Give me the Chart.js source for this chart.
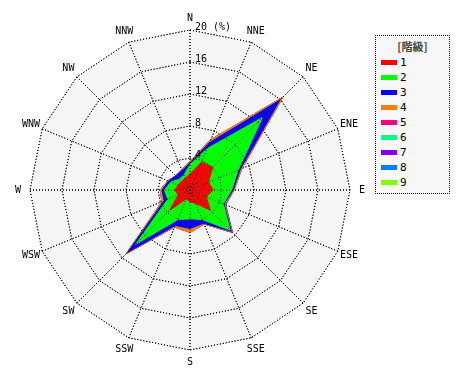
<!DOCTYPE html>
<html>
<head>
<meta charset="utf-8">
<script src="https://cdn.jsdelivr.net/npm/chart.js@4"></script>
<style>
  body { margin: 0; background: #fff; }
  #wrap { position: relative; width: 470px; height: 380px; }
  #rose { position: absolute; left: 0; top: 0; }
  #legend {
    position: absolute; left: 375px; top: 35px; width: 75px; height: 159px;
    border: 1px dotted #000; background: #f7f7f7; box-sizing: border-box;
    font: 11px "DejaVu Sans Mono", monospace; color: #000;
  }
  #legend .ttl { text-align: center; font: bold 11px "Noto Sans CJK JP", sans-serif; color: #444; margin-top: 2px; height: 17px; line-height: 17px; }
  #legend .row { height: 15px; line-height: 15px; position: relative; }
  #legend .sw { position: absolute; left: 5px; top: 5px; width: 16px; height: 5px; }
  #legend .lb { position: absolute; left: 24px; top: 0; }
</style>
</head>
<body>
<div id="wrap">
  <canvas id="rose" width="380" height="380"></canvas>
  <div id="legend"></div>
</div>
<script>
const directions = ["N","NNE","NE","ENE","E","ESE","SE","SSE","S","SSW","SW","WSW","W","WNW","NW","NNW"];
const classes = ["1","2","3","4","5","6","7","8","9"];
const colors = ["#ff0000","#00ff00","#0000ff","#ff8000","#ff0080","#00ff80","#8000ff","#0080ff","#80ff00"];

// frequency (%) of each class, per direction
const class1 = [2.0, 3.8, 4.0, 2.5, 2.9, 2.2, 3.6, 1.8, 1.5, 1.2, 3.6, 1.6, 1.9, 1.6, 1.5, 1.6];
const class2 = [1.2, 1.8, 8.8, 4.0, 2.3, 2.3, 3.5, 2.2, 2.1, 2.8, 6.0, 1.4, 1.3, 1.0, 0.4, 0.4];
const class3 = [0.2, 0.8, 3.1, 0.3, 0.2, 0.1, 0.2, 0.5, 1.2, 0.8, 1.4, 0.5, 0.3, 0.3, 0.6, 0.6];
const class4 = [0.2, 0.4, 0.5, 0.2, 0.1, 0.1, 0.1, 0.1, 0.5, 0.2, 0.2, 0.3, 0.2, 0.1, 0.0, 0.1];
const class5 = [0, 0, 0, 0, 0, 0.1, 0.1, 0, 0, 0, 0, 0, 0, 0, 0, 0];
const class6 = [0, 0, 0, 0, 0, 0, 0, 0, 0, 0, 0, 0, 0, 0, 0, 0];
const class7 = [0, 0, 0, 0, 0, 0, 0, 0, 0, 0, 0, 0, 0, 0, 0, 0];
const class8 = [0, 0, 0, 0, 0, 0, 0, 0, 0, 0, 0, 0, 0, 0, 0, 0];
const class9 = [0, 0, 0, 0, 0, 0, 0, 0, 0, 0, 0, 0, 0, 0, 0, 0];

const tickValues = [4, 8, 12, 16, 20];
const tickText = ["4", "8", "12", "16", "20 (%)"];

// stack the classes: each dataset is the running total
const freq = [class1, class2, class3, class4, class5, class6, class7, class8, class9];
let running = directions.map(() => 0);
const datasets = freq.map((arr, i) => {
  running = running.map((v, j) => v + arr[j]);
  return {
    label: classes[i],
    data: running.slice(),
    backgroundColor: colors[i],
    borderColor: colors[i],
    borderWidth: 1,
    pointRadius: 0,
    fill: "origin",
  };
});

// grid lines sit on top of the filled areas, then labels
const roseExtras = {
  id: "roseExtras",
  afterDatasetsDraw(chart) {
    chart.scales.r.drawGrid(chart.chartArea);
  },
  afterDraw(chart) {
    const s = chart.scales.r, ctx = chart.ctx;
    ctx.save();
    ctx.font = '10px "DejaVu Sans Mono"';
    ctx.fillStyle = "#000";
    ctx.textAlign = "left";
    ctx.textBaseline = "bottom";
    tickValues.forEach((v, i) => {
      const y = s.yCenter - s.getDistanceFromCenterForValue(v);
      ctx.fillText(tickText[i], s.xCenter + 5, y + 2);
    });
    // direction names, centred just outside the outer ring
    ctx.textAlign = "center";
    ctx.textBaseline = "middle";
    directions.forEach((d, i) => {
      const p = s.getPointPosition(i, s.drawingArea + 12);
      ctx.fillText(d, p.x, p.y);
    });
    ctx.restore();
  }
};

new Chart(document.getElementById("rose"), {
  type: "radar",
  data: { labels: directions, datasets: datasets },
  options: {
    responsive: false,
    animation: false,
    layout: { padding: 30 },
    elements: { line: { tension: 0 } },
    plugins: { legend: { display: false }, tooltip: { enabled: false } },
    scales: {
      r: {
        min: 0, max: 20,
        backgroundColor: "#f5f5f5",
        ticks: { stepSize: 4, display: false },
        grid: { color: "#000", lineWidth: 1 },
        border: { dash: [1, 2] },
        angleLines: { color: "#000", lineWidth: 1, borderDash: [1, 2] },
        pointLabels: { display: false }
      }
    }
  },
  plugins: [roseExtras]
});

const legend = document.getElementById("legend");
legend.innerHTML = '<div class="ttl">[階級]</div>' + classes.map((c, i) =>
  '<div class="row"><span class="sw" style="background:' + colors[i] + '"></span><span class="lb">' + c + '</span></div>'
).join("");
</script>
</body>
</html>
